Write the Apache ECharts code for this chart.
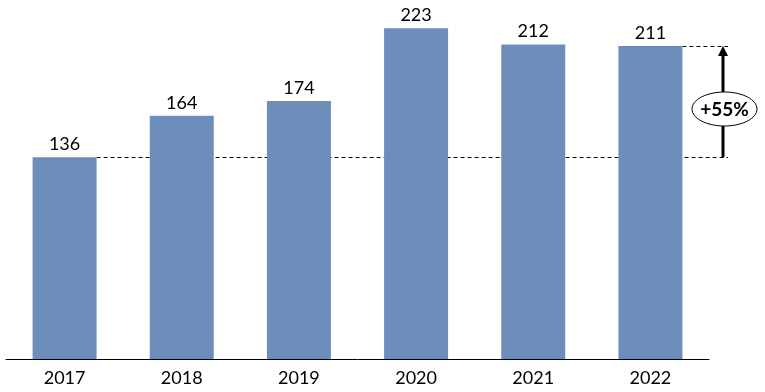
<!DOCTYPE html>
<html>
<head>
<meta charset="utf-8">
<script src="https://cdn.jsdelivr.net/npm/echarts@6/dist/echarts.min.js"></script>
<style>
html,body{margin:0;padding:0;background:#fff;}
#c{width:765px;height:392px;}
</style>
</head>
<body>
<div id="c"></div>
<script>
const categories = ['2017', '2018', '2019', '2020', '2021', '2022'];
const values = [136, 164, 174, 223, 212, 211];
const compareFrom = 0; // index of 2017
const compareTo = 5;   // index of 2022

const FONT = 'Lato, "Open Sans", sans-serif';
const BAR_W = 64;

const chart = echarts.init(document.getElementById('c'), null, {renderer: 'canvas'});
chart.setOption({
  animation: false,
  backgroundColor: '#ffffff',
  grid: {left: 6, right: 56, top: 3, bottom: 33, containLabel: false},
  xAxis: {
    type: 'category',
    data: categories,
    axisLine: {show: true, lineStyle: {color: '#000', width: 1}},
    axisTick: {show: false},
    axisLabel: {color: '#000', fontSize: 18, fontFamily: FONT, margin: 10}
  },
  yAxis: {
    type: 'value', min: 0, max: 240,
    show: false,
    splitLine: {show: false}
  },
  series: [{
    type: 'bar',
    data: values,
    barWidth: BAR_W,
    itemStyle: {color: '#6d8ebb'},
    label: {show: true, position: 'top', distance: 4, color: '#000', fontSize: 18, fontFamily: FONT},
    z: 2
  }]
});

const yFrom = chart.convertToPixel({yAxisIndex: 0}, values[compareFrom]);
const yTo = chart.convertToPixel({yAxisIndex: 0}, values[compareTo]);
const xFromEdge = chart.convertToPixel({xAxisIndex: 0}, compareFrom) + BAR_W / 2;
const xToEdge = chart.convertToPixel({xAxisIndex: 0}, compareTo) + BAR_W / 2;
const lineEnd = 728;
const arrowX = 723;
const pct = Math.round((values[compareTo] / values[compareFrom] - 1) * 100);
const midY = 109;

chart.setOption({
  graphic: [
    {type: 'line', z: 0, shape: {x1: xFromEdge, y1: Math.round(yFrom) + 0.5, x2: lineEnd, y2: Math.round(yFrom) + 0.5},
     style: {stroke: '#000', lineWidth: 1, lineDash: [4, 3]}},
    {type: 'line', z: 0, shape: {x1: xToEdge, y1: Math.round(yTo) + 0.5, x2: lineEnd, y2: Math.round(yTo) + 0.5},
     style: {stroke: '#000', lineWidth: 1, lineDash: [4, 3]}},
    {type: 'line', z: 5, shape: {x1: arrowX, y1: yFrom, x2: arrowX, y2: yTo + 8},
     style: {stroke: '#000', lineWidth: 3}},
    {type: 'polygon', z: 5, shape: {points: [[arrowX, yTo], [arrowX - 5, yTo + 10], [arrowX + 5, yTo + 10]]},
     style: {fill: '#000'}},
    {type: 'ellipse', z: 6, shape: {cx: 724.5, cy: midY, rx: 32.5, ry: 17},
     style: {fill: '#fff', stroke: '#000', lineWidth: 1}},
    {type: 'text', z: 7, x: 724.5, y: midY + 1,
     style: {text: '+' + pct + '%', fill: '#000', font: 'bold 19px ' + FONT, textAlign: 'center', textVerticalAlign: 'middle'}}
  ]
});
</script>
</body>
</html>
